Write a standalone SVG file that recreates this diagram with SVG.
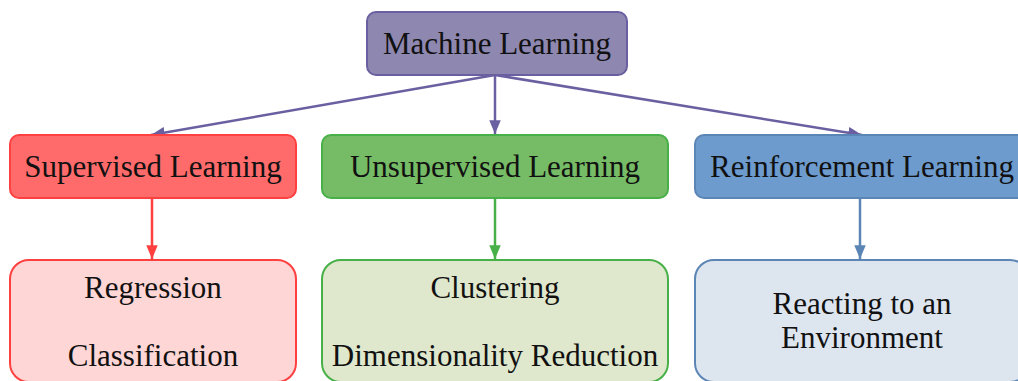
<svg xmlns="http://www.w3.org/2000/svg" width="1018" height="381" viewBox="0 0 1018 381">
<style>
text{font-family:"Liberation Serif","Times New Roman",serif;font-size:31px;fill:#111;text-anchor:middle}
.box{stroke-width:2}
.edge{fill:none;stroke-width:2.5}
</style>
<defs>
<marker id="ap" viewBox="0 0 12 10" refX="12" refY="5" markerWidth="5.6" markerHeight="4.6" markerUnits="strokeWidth" orient="auto"><path d="M0,0 L12,5 L0,10 z" fill="#6a5fa0"/></marker>
<marker id="ar" viewBox="0 0 12 10" refX="12" refY="5" markerWidth="5.6" markerHeight="4.6" markerUnits="strokeWidth" orient="auto"><path d="M0,0 L12,5 L0,10 z" fill="#ff4040"/></marker>
<marker id="ag" viewBox="0 0 12 10" refX="12" refY="5" markerWidth="5.6" markerHeight="4.6" markerUnits="strokeWidth" orient="auto"><path d="M0,0 L12,5 L0,10 z" fill="#48b048"/></marker>
<marker id="ab" viewBox="0 0 12 10" refX="12" refY="5" markerWidth="5.6" markerHeight="4.6" markerUnits="strokeWidth" orient="auto"><path d="M0,0 L12,5 L0,10 z" fill="#5b85b5"/></marker>
</defs>
<rect width="1018" height="381" fill="#fff"/>
<g id="connectors">
<path class="edge" d="M495,75 L151,135" stroke="#6a5fa0" marker-end="url(#ap)"/>
<path class="edge" d="M495,75 L495,134" stroke="#6a5fa0" marker-end="url(#ap)"/>
<path class="edge" d="M495,75 L862,135" stroke="#6a5fa0" marker-end="url(#ap)"/>
<path class="edge" d="M152,198 L152,259" stroke="#ff4040" marker-end="url(#ar)"/>
<path class="edge" d="M495,198 L495,259" stroke="#48b048" marker-end="url(#ag)"/>
<path class="edge" d="M860,198 L860,259" stroke="#5b85b5" marker-end="url(#ab)"/>
</g>
<g id="machine-learning">
<rect class="box" x="367" y="12" width="260" height="63" rx="9" fill="#8e87b0" stroke="#6a5fa0"/>
<text x="497" y="54">Machine Learning</text>
</g>
<g id="supervised">
<rect class="box" x="10" y="135" width="286" height="63" rx="9" fill="#ff6b6b" stroke="#ff4040"/>
<text x="153" y="177">Supervised Learning</text>
</g>
<g id="unsupervised">
<rect class="box" x="322" y="135" width="346" height="63" rx="9" fill="#76bb65" stroke="#48b048"/>
<text x="495" y="177">Unsupervised Learning</text>
</g>
<g id="reinforcement">
<rect class="box" x="695" y="135" width="334" height="63" rx="9" fill="#6d9bcd" stroke="#5b85b5"/>
<text x="862" y="177">Reinforcement Learning</text>
</g>
<g id="supervised-tasks">
<rect class="box" x="10" y="260" width="286" height="122" rx="19" fill="#ffd6d6" stroke="#ff4040"/>
<text x="153" y="298">Regression</text>
<text x="153" y="366">Classification</text>
</g>
<g id="unsupervised-tasks">
<rect class="box" x="322" y="260" width="346" height="122" rx="19" fill="#dfe8cc" stroke="#48b048"/>
<text x="495" y="298">Clustering</text>
<text x="495" y="366">Dimensionality Reduction</text>
</g>
<g id="reinforcement-tasks">
<rect class="box" x="695" y="260" width="334" height="122" rx="19" fill="#dde5ef" stroke="#5b85b5"/>
<text x="862" y="314">Reacting to an</text>
<text x="862" y="348">Environment</text>
</g>
</svg>
